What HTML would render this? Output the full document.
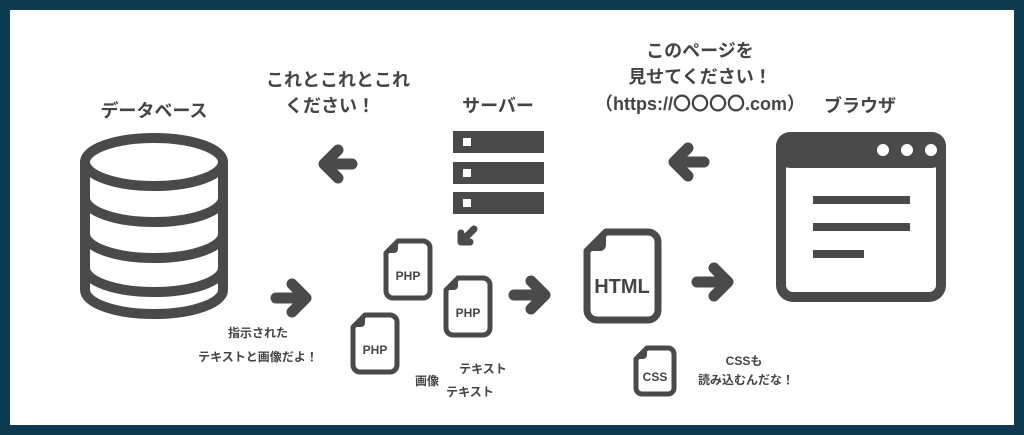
<!DOCTYPE html>
<html><head><meta charset="utf-8"><style>
html,body{margin:0;padding:0;background:#0e3a4f;}
svg{display:block}
text{font-family:"Liberation Sans","Noto Sans CJK JP",sans-serif;fill:#444;font-weight:bold;text-anchor:middle}
</style></head><body>
<svg width="1024" height="435" viewBox="0 0 1024 435" xmlns="http://www.w3.org/2000/svg">
<rect x="0" y="0" width="1024" height="435" fill="#0e3a4f"/>
<rect x="10" y="10" width="1004" height="415" fill="#fff"/>
<g fill="none" stroke="#4a4a4a" stroke-width="10" stroke-linecap="round" stroke-linejoin="round">
<ellipse cx="154" cy="162" rx="69" ry="24"/>
<path d="M85 162 V290 A69 24 0 0 0 223 290 V162"/>
<path d="M85 198 A69 24 0 0 0 223 198"/>
<path d="M85 234 A69 24 0 0 0 223 234"/>
<path d="M85 268 A69 24 0 0 0 223 268"/>
<path d="M352 164 H324 M338 150 L324 164 L338 178" stroke-width="11"/>
<path d="M276 298 H306 M292 284 L306 298 L292 312" stroke-width="11"/>
<path d="M514 295 H545 M531 281 L545 295 L531 309" stroke-width="11"/>
<path d="M697 282 H728 M714 268 L728 282 L714 296" stroke-width="11"/>
<path d="M704 162 H674 M688 148 L674 162 L688 176" stroke-width="11"/>
<path d="M474 229 L462 241 M461 233 V242 H470" stroke-width="7"/>
<rect x="781" y="137" width="160" height="160" rx="12"/>
</g>
<g fill="#4a4a4a">
<rect x="453" y="131" width="91" height="22"/>
<rect x="453" y="162" width="91" height="22"/>
<rect x="453" y="192" width="91" height="22"/>
<rect x="776" y="132" width="170" height="36" rx="14"/>
<rect x="813" y="196" width="97" height="8"/>
<rect x="813" y="223" width="97" height="8"/>
<rect x="813" y="250" width="51" height="8"/>
</g>
<g fill="#fff">
<rect x="463" y="138" width="8" height="8"/>
<rect x="463" y="169" width="8" height="8"/>
<rect x="463" y="199" width="8" height="8"/>
<circle cx="883" cy="150" r="6"/><circle cx="907" cy="150" r="6"/><circle cx="931" cy="150" r="6"/>
</g>
<g fill="none" stroke="#4a4a4a" stroke-width="5" stroke-linejoin="round">
<path d="M398 241 H423 A7 7 0 0 1 430 248 V291 A7 7 0 0 1 423 298 H393 A7 7 0 0 1 386 291 V253 Z"/>
<path d="M458 278 H483 A7 7 0 0 1 490 285 V328 A7 7 0 0 1 483 335 H453 A7 7 0 0 1 446 328 V290 Z"/>
<path d="M365 315 H390 A7 7 0 0 1 397 322 V365 A7 7 0 0 1 390 372 H360 A7 7 0 0 1 353 365 V327 Z"/>
<path d="M606 232 H648 A10 10 0 0 1 658 242 V310 A10 10 0 0 1 648 320 H597 A10 10 0 0 1 587 310 V251 Z" stroke-width="7"/>
<path d="M647 348 H668 A6 6 0 0 1 674 354 V388 A6 6 0 0 1 668 394 H642 A6 6 0 0 1 636 388 V359 Z"/>
</g>
<g fill="#4a4a4a">
<path d="M386 253 L398 241 V249 A4 4 0 0 1 394 253 Z"/>
<path d="M446 290 L458 278 V286 A4 4 0 0 1 454 290 Z"/>
<path d="M353 327 L365 315 V323 A4 4 0 0 1 361 327 Z"/>
<path d="M587 251 L606 232 V245 A6 6 0 0 1 600 251 Z"/>
<path d="M636 359 L647 348 V355 A4 4 0 0 1 643 359 Z"/>
</g>
<g style="font-size:12px">
<text x="408" y="280">PHP</text>
<text x="468" y="317">PHP</text>
<text x="375" y="354">PHP</text>
<text x="655" y="381">CSS</text>
</g>
<text x="622" y="293" style="font-size:20px">HTML</text>
<g style="font-size:18px">
<text x="154" y="117">データベース</text>
<text x="338" y="86">これとこれとこれ</text>
<text x="330" y="112">ください！</text>
<text x="498" y="112">サーバー</text>
<text x="700" y="57">このページを</text>
<text x="700" y="83">見せてください！</text>
<text x="700" y="110">（https://<tspan style="font-family:'Noto Sans CJK JP',sans-serif">〇〇〇〇</tspan>.com）</text>
<text x="860" y="112">ブラウザ</text>
</g>
<g style="font-size:12px">
<text x="258" y="337">指示された</text>
<text x="258" y="361">テキストと画像だよ！</text>
<text x="427" y="385">画像</text>
<text x="483" y="373">テキスト</text>
<text x="470" y="396">テキスト</text>
<text x="744" y="365">CSSも</text>
<text x="746" y="384">読み込むんだな！</text>
</g>
</svg>
</body></html>
